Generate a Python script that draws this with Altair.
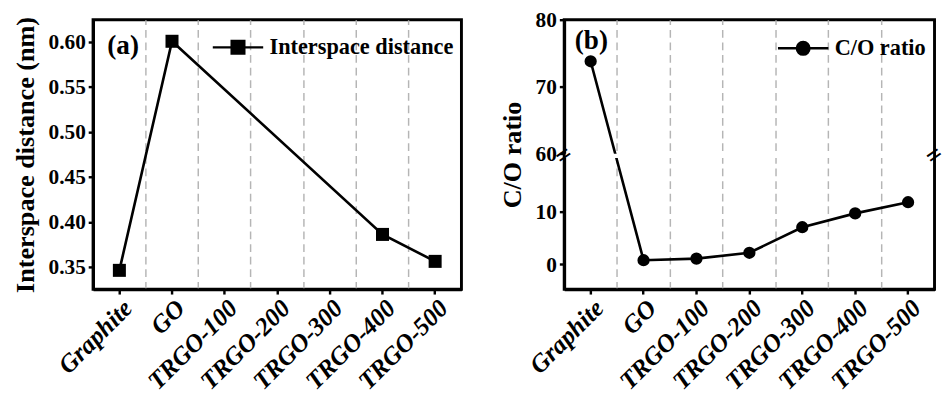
import altair as alt
import pandas as pd

# ---------------- data ----------------
categories = ["Graphite", "GO", "TRGO-100", "TRGO-200", "TRGO-300", "TRGO-400", "TRGO-500"]
interspace = [0.346, 0.601, None, None, None, 0.386, 0.356]   # nm
co_ratio = [73.8, 0.8, 1.1, 2.2, 7.0, 9.6, 11.7]

y_a_ticks = [0.35, 0.375, 0.40, 0.425, 0.45, 0.475, 0.50, 0.525, 0.55, 0.575, 0.60]
y_b_ticks = [0, 5, 10, 15, 60, 65, 70, 75, 80]

FONT = "Liberation Serif"
W_A, W_B, H = 380, 382, 278

df_a = pd.DataFrame({"sample": categories, "d": interspace,
                     "idx": list(range(len(categories))),
                     "series": "Interspace distance"}).dropna()
df_b = pd.DataFrame({"sample": categories, "r": co_ratio,
                     "idx": list(range(len(categories))),
                     "series": "C/O ratio"})
one = pd.DataFrame({"k": [0]})

x_scale = alt.Scale(type="band", domain=categories, paddingInner=0, paddingOuter=0)

def x_bottom():
    return alt.X("sample:N", scale=x_scale, title=None,
                 axis=alt.Axis(orient="bottom", labelAngle=-45, labelFontSize=26,
                               labelFontStyle="italic", tickSize=5, grid=False,
                               labelPadding=1))

def x_top():
    return alt.X("sample:N", scale=x_scale, title=None,
                 axis=alt.Axis(orient="top", values=categories[1:], bandPosition=0,
                               grid=True, gridDash=[8, 5], gridColor="#b5b5b5",
                               gridWidth=1.5, ticks=False, labels=False, domain=False))

def x_plain():
    return alt.X("sample:N", scale=x_scale, axis=None)

major_a = "round(datum.value*1000) % 50 == 0"
y_a = alt.Y("d:Q", scale=alt.Scale(domain=[0.325, 0.625], nice=False, zero=False),
            title="Interspace distance (nm)",
            axis=alt.Axis(values=y_a_ticks,
                          labelExpr=f"{major_a} ? format(datum.value, '.2f') : ''",
                          tickSize={"condition": {"test": major_a, "value": 5}, "value": 3},
                          grid=False, labelPadding=3, titlePadding=9))

sym_sq = ("M-1,0L-0.25,0M0.25,0L1,0"
          "M-0.25,-0.25L0.25,-0.25L0.25,0.25L-0.25,0.25Z")
sym_ci = ("M-1,0L-0.25,0M0.25,0L1,0"
          "M-0.25,0A0.25,0.25 0 1,0 0.25,0A0.25,0.25 0 1,0 -0.25,0Z")

def legend(sym, lx, ly):
    return alt.Legend(title=None, orient="none", legendX=lx, legendY=ly,
                      symbolType=sym, symbolSize=2704, symbolStrokeWidth=2.5,
                      symbolStrokeColor="black", symbolFillColor="black",
                      labelFont=FONT, labelFontSize=23, labelFontWeight="bold",
                      labelColor="black", labelLimit=0, padding=0, labelOffset=5)

# ---------------- panel (a) ----------------
base_a = alt.Chart(df_a)
grid_a = base_a.mark_point(opacity=0).encode(x=x_top(), y=alt.Y("d:Q"))
line_a = base_a.mark_line(color="black", strokeWidth=2.7).encode(
    x=x_bottom(), y=y_a, order="idx:Q")
pts_a = base_a.mark_point(shape="square", filled=True, size=180, opacity=1).encode(
    x=x_plain(),
    y=alt.Y("d:Q"),
    color=alt.Color("series:N", scale=alt.Scale(range=["black"]),
                    legend=legend(sym_sq, 122, 1)))
lab_a = alt.Chart(one).mark_text(text="(a)", font=FONT, fontSize=28, fontWeight="bold",
                                 color="black").encode(x=alt.value(31), y=alt.value(27))

panel_a = alt.layer(grid_a, line_a, pts_a, lab_a).resolve_axis(x="independent").properties(
    width=W_A, height=H)

# ---------------- panel (b) ----------------
y_b_scale = alt.Scale(domain=[-4.65, 20, 60, 80], range=[H, 142.7, 138.3, 0],
                      nice=False, zero=False)
major_b = "datum.value % 10 == 0"
y_b = alt.Y("r:Q", scale=y_b_scale, title="C/O ratio",
            axis=alt.Axis(values=y_b_ticks,
                          labelExpr=f"{major_b} ? datum.value : ''",
                          tickSize={"condition": {"test": major_b, "value": 5}, "value": 3},
                          grid=False, labelPadding=3, titlePadding=9))

base_b = alt.Chart(df_b)
grid_b = base_b.mark_point(opacity=0).encode(x=x_top(), y=alt.Y("r:Q"))
line_b = base_b.mark_line(color="black", strokeWidth=2.7).encode(
    x=x_bottom(), y=y_b, order="idx:Q")
gap_b = alt.Chart(one).mark_rect(color="white").encode(
    x=alt.value(1.5), x2=alt.value(W_B - 1.5), y=alt.datum(20), y2=alt.datum(60))
pts_b = base_b.mark_point(shape="circle", filled=True, size=160, opacity=1).encode(
    x=x_plain(),
    y=alt.Y("r:Q"),
    color=alt.Color("series:N", scale=alt.Scale(range=["black"]),
                    legend=legend(sym_ci, 219, 2)))
brk_l = alt.Chart(one).mark_text(text="=", font=FONT, fontSize=28, fontWeight="bold",
                                 angle=325, color="black").encode(
    x=alt.value(0), y=alt.datum(40))
brk_r = alt.Chart(one).mark_text(text="=", font=FONT, fontSize=28, fontWeight="bold",
                                 angle=325, color="black").encode(
    x=alt.value(W_B), y=alt.datum(40))
lab_b = alt.Chart(one).mark_text(text="(b)", font=FONT, fontSize=28, fontWeight="bold",
                                 color="black").encode(x=alt.value(28), y=alt.value(22))

panel_b = alt.layer(grid_b, line_b, gap_b, pts_b, brk_l, brk_r, lab_b).resolve_axis(
    x="independent").properties(width=W_B, height=H)

chart = alt.hconcat(panel_a, panel_b, spacing=35).resolve_scale(color="independent").properties(
    padding={"left": 10, "top": 1, "right": 0, "bottom": 0},
    background="white",
).configure_view(stroke="black", strokeWidth=3).configure_axis(
    labelFont=FONT, labelFontSize=22, labelFontWeight="bold", labelColor="black",
    titleFont=FONT, titleFontSize=27, titleFontWeight="bold", titleColor="black",
    tickColor="black", tickWidth=2.5, domainColor="black", domainWidth=3,
)

chart.save("out.html", embed_options={"renderer": "svg", "actions": False})
